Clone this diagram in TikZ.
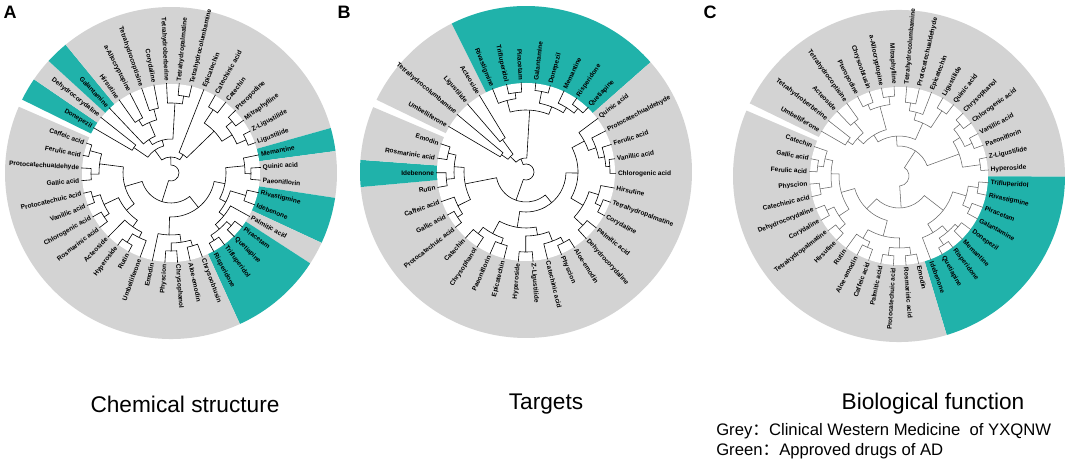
\documentclass[tikz,border=0pt]{standalone}
\usepackage{fontspec}
\setmainfont{Liberation Sans}
\newfontfamily\cjk{Noto Sans CJK SC}
\definecolor{ringgrey}{RGB}{211,211,211}
\definecolor{ringteal}{RGB}{32,178,170}

% layout of one circle: first angle, angle step, name
\newcommand\tstart{0}
\newcommand\tstep{0}
\newcommand\tname{A}

% leaves i sit at position i, radius 90
\newcommand\setleaves[1]{%
  \foreach \i in {1,...,#1}{%
    \expandafter\xdef\csname tp@\i\endcsname{\i}%
    \expandafter\xdef\csname tr@\i\endcsname{90}}}

% join two branches at a radius
\newcommand\mg[4]{%
  \edef\posA{\csname tp@#2\endcsname}\edef\posB{\csname tp@#3\endcsname}%
  \edef\radA{\csname tr@#2\endcsname}\edef\radB{\csname tr@#3\endcsname}%
  \pgfmathsetmacro\angA{\tstart-(\posA-1)*\tstep}%
  \pgfmathsetmacro\angB{\tstart-(\posB-1)*\tstep}%
  \draw[branch] (\angA:\radA) -- (\angA:#4) arc[start angle=\angA,end angle=\angB,radius=#4] -- (\angB:\radB);%
  \pgfmathsetmacro\posM{(\posA+\posB)/2}%
  \expandafter\xdef\csname tp@#1\endcsname{\posM}%
  \expandafter\xdef\csname tr@#1\endcsname{#4}}

% coloured wedge for leaves #1..#2
\newcommand\sect[3]{%
  \pgfmathsetmacro\secA{\tstart-(#1-1.5)*\tstep}%
  \pgfmathsetmacro\secB{\tstart-(#2-0.5)*\tstep}%
  \fill[#3] (0,0) -- (\secA:166) arc[start angle=\secA,end angle=\secB,radius=166] -- cycle;}

% leaf label
\newcommand\lf[2]{%
  \pgfmathsetmacro\lfang{\tstart-(#1-1)*\tstep}%
  \pgfmathtruncatemacro\lfright{cos(\lfang)>-0.0001}%
  \ifnum\lfright=1
    \node[leaf,anchor=west,rotate=\lfang] (\tname-#1) at (\lfang:91) {#2};%
  \else
    \node[leaf,anchor=east,rotate=\lfang+180] (\tname-#1) at (\lfang:91) {#2};%
  \fi}

\begin{document}
\begin{tikzpicture}[x=0.75pt,y=0.75pt,
    leaf/.style={font=\fontsize{4.9}{5}\selectfont\bfseries,inner sep=0.6pt},
    branch/.style={line width=0.45pt,black},
    title/.style={font=\fontsize{17}{20}\selectfont},
    panel/.style={font=\fontsize{13.5}{15}\selectfont\bfseries,inner sep=0},
    legend/.style={font=\fontsize{12.5}{15}\selectfont,anchor=west,inner sep=0}]
\useasboundingbox (0,0) rectangle (1072,474);

    %chemical structure
    \begin{scope}[shift={(171,301)}]
        \renewcommand\tstart{149.7}\renewcommand\tstep{8.12}\renewcommand\tname{A}
        \sect{1}{1}{ringteal} \sect{2}{2}{ringgrey} \sect{3}{3}{ringteal}
        \sect{4}{17}{ringgrey} \sect{18}{18}{ringteal} \sect{19}{20}{ringgrey}
        \sect{21}{22}{ringteal} \sect{23}{23}{ringgrey} \sect{24}{27}{ringteal}
        \sect{28}{44}{ringgrey}
        \fill[white] (0,0) circle[radius=89];
        \setleaves{44}
        \mg{a1}{1}{2}{45} \mg{a2}{4}{5}{62} \mg{a3}{6}{7}{66} \mg{a4}{a2}{a3}{55}
        \mg{a5}{3}{a4}{40} \mg{a6}{9}{10}{78} \mg{a7}{8}{a6}{70} \mg{a8}{a5}{a7}{34}
        \mg{a9}{a1}{a8}{28} \mg{a10}{12}{13}{76} \mg{a11}{14}{15}{80} \mg{a12}{16}{17}{82}
        \mg{a13}{a11}{a12}{72} \mg{a14}{a10}{a13}{60} \mg{a15}{11}{a14}{22} \mg{a16}{a9}{a15}{16}
        \mg{a17}{19}{20}{80} \mg{a18}{18}{a17}{74} \mg{a19}{21}{22}{78} \mg{a20}{24}{25}{80}
        \mg{a21}{26}{27}{80} \mg{a22}{a20}{a21}{74} \mg{a23}{23}{a22}{68} \mg{a24}{a19}{a23}{62}
        \mg{a25}{a18}{a24}{55} \mg{a26}{28}{29}{76} \mg{a27}{30}{31}{78} \mg{a28}{a26}{a27}{70}
        \mg{a29}{a28}{32}{62} \mg{a30}{a25}{a29}{44} \mg{a31}{34}{35}{82} \mg{a32}{33}{a31}{72}
        \mg{a33}{a32}{36}{66} \mg{a34}{37}{38}{80} \mg{a35}{39}{40}{82} \mg{a36}{a34}{a35}{74}
        \mg{a37}{a33}{a36}{58} \mg{a38}{41}{42}{80} \mg{a39}{43}{44}{84} \mg{a40}{a38}{a39}{72}
        \mg{a41}{a37}{a40}{48} \mg{a42}{a30}{a41}{30} \mg{a43}{a16}{a42}{8}
        \foreach \lbl [count=\idx] in {Donepezil, Dehydrocorydaline, Galantamine, Hirsutine,
            a-Allocryptopine, Tetrahydrocoptisine, Corydaline, Tetrahydroberberine,
            Tetrahydropalmatine, Tetrahydrocolumbamine, Epicatechin, Catechinic acid, Catechin,
            Pteropodine, Mitraphylline, Z-Ligustilide, Ligustilide, Memantine, Quinic acid,
            Paeoniflorin, Rivastigmine, Idebenone, Palmitic acid, Piracetam, Quetiapine,
            Trifluperidol, Risperidone, Chrysoobtusin, Aloe-emodin, Chrysophanol, Physcion,
            Emodin, Umbelliferone, Rutin, Hyperoside, Acteoside, Rosmarinic acid,
            Chlorogenic acid, Vanillic acid, Protocatechuic acid, Gallic acid,
            Protocatechualdehyde, Ferulic acid, Caffeic acid}
            {\lf{\idx}{\lbl}}
    \end{scope}

    %targets
    \begin{scope}[shift={(526,302)}]
        \renewcommand\tstart{149.5}\renewcommand\tstep{9.4}\renewcommand\tname{B}
        \sect{1}{4}{ringgrey} \sect{5}{12}{ringteal} \sect{13}{35}{ringgrey}
        \sect{36}{36}{ringteal} \sect{37}{38}{ringgrey}
        \fill[white] (0,0) circle[radius=89];
        \setleaves{38}
        \mg{b1}{1}{2}{30} \mg{b2}{3}{4}{40} \mg{b3}{b1}{b2}{22} \mg{b4}{6}{7}{80}
        \mg{b5}{5}{b4}{74} \mg{b6}{8}{9}{82} \mg{b7}{11}{12}{82} \mg{b8}{10}{b7}{76}
        \mg{b9}{b6}{b8}{70} \mg{b10}{b5}{b9}{62} \mg{b11}{b3}{b10}{14} \mg{b12}{16}{17}{84}
        \mg{b13}{15}{b12}{80} \mg{b14}{14}{b13}{74} \mg{b15}{13}{b14}{66} \mg{b16}{19}{20}{82}
        \mg{b17}{18}{b16}{76} \mg{b18}{21}{22}{78} \mg{b19}{b17}{b18}{66} \mg{b20}{b15}{b19}{52}
        \mg{b21}{23}{24}{80} \mg{b22}{b21}{25}{74} \mg{b23}{26}{27}{80} \mg{b24}{b22}{b23}{64}
        \mg{b25}{28}{29}{76} \mg{b26}{30}{31}{78} \mg{b27}{b25}{b26}{70} \mg{b28}{b24}{b27}{56}
        \mg{b29}{b20}{b28}{40} \mg{b30}{32}{33}{82} \mg{b31}{b30}{34}{76} \mg{b32}{35}{36}{80}
        \mg{b33}{37}{38}{80} \mg{b34}{b32}{b33}{72} \mg{b35}{b31}{b34}{62} \mg{b36}{b29}{b35}{30}
        \mg{b37}{b11}{b36}{8}
        \foreach \lbl [count=\idx] in {Umbelliferone, Tetrahydrocolumbamine, Ligustilide,
            Acteoside, Rivastigmine, Trifluperidol, Piracetam, Galantamine, Donepezil,
            Memantine, Risperidone, Quetiapine, Quinic acid, Protocatechualdehyde,
            Ferulic acid, Vanillic acid, Chlorogenic acid, Hirsutine, Tetrahydropalmatine,
            Corydaline, Palmitic acid, Dehydrocorydaline, Aloe-emodin, Physcion,
            Catechinic acid, Z-Ligustilide, Hyperoside, Epicatechin, Paeoniflorin,
            Chrysophanol, Catechin, Protocatechuic acid, Gallic acid, Caffeic acid, Rutin,
            Idebenone, Rosmarinic acid, Emodin}
            {\lf{\idx}{\lbl}}
    \end{scope}

    %biological function
    \begin{scope}[shift={(899,298)},branch/.style={line width=0.4pt,black!60}]
        \renewcommand\tstart{150}\renewcommand\tstep{8.12}\renewcommand\tname{C}
        \sect{1}{19}{ringgrey} \sect{20}{28}{ringteal} \sect{29}{44}{ringgrey}
        \fill[white] (0,0) circle[radius=89];
        \setleaves{44}
        \mg{c1}{1}{2}{62} \mg{c2}{3}{4}{70} \mg{c3}{c1}{c2}{56} \mg{c4}{5}{6}{78}
        \mg{c5}{7}{8}{80} \mg{c6}{c4}{c5}{72} \mg{c7}{c3}{c6}{48} \mg{c8}{9}{10}{74}
        \mg{c9}{c8}{11}{66} \mg{c10}{12}{13}{78} \mg{c11}{c9}{c10}{58} \mg{c12}{c7}{c11}{40}
        \mg{c13}{14}{15}{80} \mg{c14}{16}{17}{80} \mg{c15}{c13}{c14}{72} \mg{c16}{18}{19}{82}
        \mg{c17}{c15}{c16}{64} \mg{c18}{c12}{c17}{30} \mg{c19}{20}{21}{80} \mg{c20}{22}{23}{78}
        \mg{c21}{c19}{c20}{70} \mg{c22}{24}{25}{78} \mg{c23}{26}{27}{82} \mg{c24}{c22}{c23}{74}
        \mg{c25}{c24}{28}{66} \mg{c26}{c21}{c25}{56} \mg{c27}{29}{30}{80} \mg{c28}{31}{32}{80}
        \mg{c29}{c27}{c28}{72} \mg{c30}{33}{34}{78} \mg{c31}{c30}{35}{72} \mg{c32}{c29}{c31}{62}
        \mg{c33}{36}{37}{80} \mg{c34}{38}{39}{80} \mg{c35}{c33}{c34}{72} \mg{c36}{40}{41}{80}
        \mg{c37}{42}{43}{82} \mg{c38}{c37}{44}{76} \mg{c39}{c36}{c38}{68} \mg{c40}{c35}{c39}{60}
        \mg{c41}{c32}{c40}{46} \mg{c42}{c26}{c41}{32} \mg{c43}{c18}{c42}{10}
        \foreach \lbl [count=\idx] in {Umbelliferone, Tetrahydroberberine, Acteoside,
            Tetrahydrocoptisine, Pteropodine, Chrysoobtusin, a-Allocryptopine, Mitraphylline,
            Tetrahydrocolumbamine, Protocatechualdehyde, Epicatechin, Ligustilide, Quinic acid,
            Chrysophanol, Chlorogenic acid, Vanillic acid, Paeoniflorin, Z-Ligustilide,
            Hyperoside, Trifluperidol, Rivastigmine, Piracetam, Galantamine, Donepezil,
            Memantine, Risperidone, Quetiapine, Idebenone, Emodin, Rosmarinic acid,
            Protocatechuic acid, Palmitic acid, Caffeic acid, Aloe-emodin, Rutin, Hirsutine,
            Tetrahydropalmatine, Corydaline, Dehydrocorydaline, Catechinic acid, Physcion,
            Ferulic acid, Gallic acid, Catechin}
            {\lf{\idx}{\lbl}}
    \end{scope}

    %panel letters
    \node[panel] (pA) at (10,462) {A};
    \node[panel] (pB) at (344,462) {B};
    \node[panel] (pC) at (710,462) {C};

    %titles
    \node[title] (tA) at (185,70) {Chemical structure};
    \node[title] (tB) at (546,70) {Targets};
    \node[title] (tC) at (933,70) {Biological function};

    %legend
    \node[legend] (lg1) at (716,43) {Grey{\cjk ：}Clinical Western Medicine\ \ of YXQNW};
    \node[legend] (lg2) at (716,23) {Green{\cjk ：}Approved drugs of AD};
\end{tikzpicture}
\end{document}
